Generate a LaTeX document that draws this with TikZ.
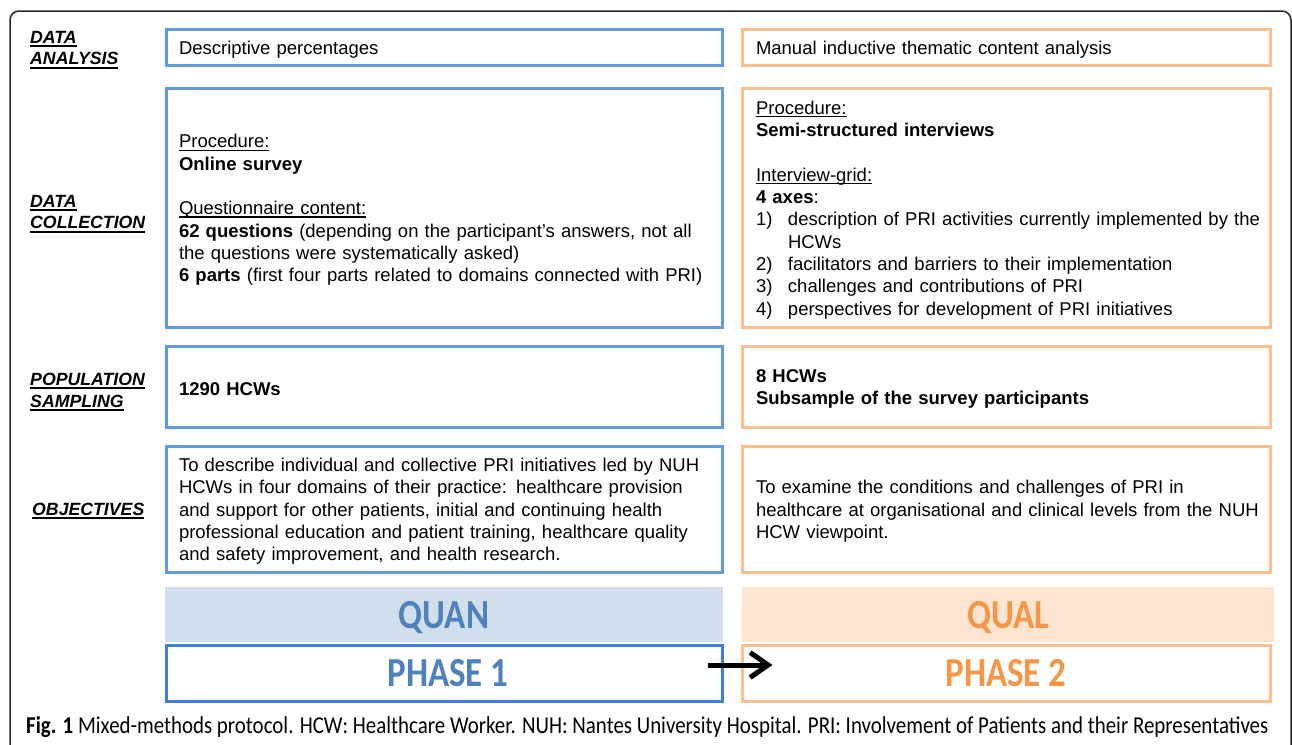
\documentclass[tikz,border=0pt]{standalone}
\usepackage{fontspec}
\setmainfont{Liberation Sans}
\newfontfamily\carl{Carlito}
\usetikzlibrary{arrows.meta}
\definecolor{bbox}{RGB}{100,154,222}
\definecolor{pblue}{RGB}{62,126,214}
\definecolor{obox}{RGB}{250,192,143}
\definecolor{quanfill}{RGB}{209,223,236}
\definecolor{quantext}{RGB}{79,129,189}
\definecolor{qualfill}{RGB}{253,229,209}
\definecolor{qualtext}{RGB}{247,150,70}
\newcommand\myul[3]{\setbox0=\hbox{#3}\leavevmode\rlap{\rule[#1]{\wd0}{#2}}\box0}
\newcommand\lab[1]{\myul{-3.6pt}{1.9pt}{#1}}
\newcommand\bul[1]{\myul{-3pt}{1.3pt}{#1}}
\newcommand\bodysize{\fontsize{18.5}{22.3}\selectfont}
\newcommand\bigcarl[1]{\scalebox{1}[1.18]{\carl\bfseries\fontsize{35}{40}\selectfont #1}}
\newcommand\itm[2]{\makebox[32pt][l]{#1}\mbox{#2}}
\tikzset{
  lbl/.style={inner sep=0pt, align=left, anchor=west, font=\fontsize{17.7}{21.3}\selectfont\bfseries\itshape},
  bbx/.style={draw=bbox, line width=3pt, minimum width=556pt, inner sep=0pt},
  obx/.style={draw=obox, line width=3pt, minimum width=528pt, inner sep=0pt},
  btx/.style={inner sep=0pt, text width=530pt, align=left, font=\bodysize},
  otx/.style={inner sep=0pt, text width=500pt, align=left, font=\bodysize},
  band/.style={minimum height=55pt, inner sep=0pt},
}
\begin{document}
\begin{tikzpicture}[x=1pt,y=-1pt]
\useasboundingbox (0,0) rectangle (1292,744);
% outer frame
\draw[line width=1.5pt, color=black!85, rounded corners=9pt] (10,770) -- (10,11) -- (1291,11) -- (1291,770);

% row labels
\node[lbl] (l1) at (30,50) {\lab{DATA}\\\lab{ANALYSIS}};
\node[lbl] (l2) at (30,214) {\lab{DATA}\\\lab{COLLECTION}};
\node[lbl] (l3) at (30,392) {\lab{POPULATION}\\\lab{SAMPLING}};
\node[lbl] (l4) at (32,511) {\lab{OBJECTIVES}};

% boxes
\node[bbx, minimum height=36pt] (da1) at (444,47) {};
\node[obx, minimum height=36pt] (da2) at (1006,47) {};
\node[bbx, minimum height=239pt] (dc1) at (444,207.5) {};
\node[obx, minimum height=239pt] (dc2) at (1006,207.5) {};
\node[bbx, minimum height=81pt] (ps1) at (444,386.5) {};
\node[obx, minimum height=81pt] (ps2) at (1006,386.5) {};
\node[bbx, minimum height=126pt] (ob1) at (444,509) {};
\node[obx, minimum height=126pt] (ob2) at (1006,509) {};

% row 1 texts
\node[btx] (tda1) at ([yshift=-2.5pt]da1.center) {Descriptive percentages};
\node[otx] (tda2) at ([yshift=-2.5pt]da2.center) {Manual inductive thematic content analysis};

% row 2 texts
\node[btx] (tdc1) at ([yshift=-2.5pt]dc1.center) {\bul{Procedure:}\\
\textbf{Online survey}\\[22.3pt]
\bul{Questionnaire content:}\\
\textbf{62 questions} (depending on the participant’s answers, not all\\
the questions were systematically asked)\\
\textbf{6 parts} (first four parts related to domains connected with PRI)};
\node[otx] (tdc2) at ([yshift=-2.5pt]dc2.center) {\bul{Procedure:}\\
\textbf{Semi-structured interviews}\\[22.3pt]
\bul{Interview-grid:}\\
\textbf{4 axes}:\\
\itm{1)}{description of PRI activities currently implemented by the}\\
\itm{}{HCWs}\\
\itm{2)}{facilitators and barriers to their implementation}\\
\itm{3)}{challenges and contributions of PRI}\\
\itm{4)}{perspectives for development of PRI initiatives}};

% row 3 texts
\node[btx] (tps1) at ([yshift=-2.5pt]ps1.center) {\textbf{1290 HCWs}};
\node[otx] (tps2) at ([yshift=-2.5pt]ps2.center) {\textbf{8 HCWs}\\\textbf{Subsample of the survey participants}};

% row 4 texts
\node[btx] (tob1) at ([yshift=-2.5pt]ob1.center) {To describe individual and collective PRI initiatives led by NUH\\
HCWs in four domains of their practice: healthcare provision\\
and support for other patients, initial and continuing health\\
professional education and patient training, healthcare quality\\
and safety improvement, and health research.};
\node[otx] (tob2) at ([yshift=-2.5pt]ob2.center) {\makebox[504pt][s]{To examine the conditions and challenges of PRI in}\\
\makebox[504pt][s]{healthcare at organisational and clinical levels from the NUH}\\
HCW viewpoint.};

% QUAN / QUAL bands
\node[band, fill=quanfill, minimum width=558pt] (quan) at (444,614.5) {};
\node[band, fill=qualfill, minimum width=532pt] (qual) at (1008,614.5) {};
\node[inner sep=0pt, text=quantext] (tquan) at ([yshift=-3pt]quan.center) {\bigcarl{QUAN}};
\node[inner sep=0pt, text=qualtext] (tqual) at ([yshift=-3pt]qual.center) {\bigcarl{QUAL}};

% phases
\node[draw=pblue, line width=3pt, minimum width=556pt, minimum height=56pt, inner sep=0pt, text=quantext] (ph1) at (444,673) {\hspace*{8pt}\bigcarl{PHASE 1}};
\node[draw=obox, line width=3pt, minimum width=528pt, minimum height=56pt, inner sep=0pt, text=qualtext] (ph2) at (1006,673) {\bigcarl{PHASE 2}};

\draw[line width=5pt, -{Straight Barb[length=18pt,width=25pt]}] ([xshift=-16pt,yshift=8pt]ph1.east) -- ([xshift=32pt,yshift=8pt]ph2.west);

% caption
\node[anchor=west, inner sep=0pt] (cap) at (26,727) {\resizebox{1242pt}{17pt}{\carl\fontsize{20}{24}\selectfont\textbf{Fig. 1} Mixed-methods protocol. HCW: Healthcare Worker. NUH: Nantes University Hospital. PRI: Involvement of Patients and their Representatives}};
\end{tikzpicture}
\end{document}
